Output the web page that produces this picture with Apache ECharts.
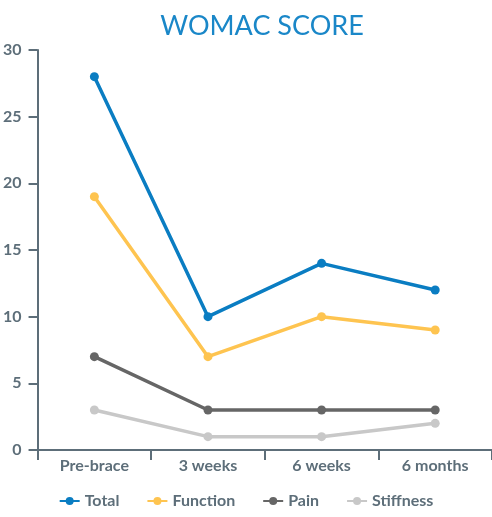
<!DOCTYPE html>
<html><head><meta charset="utf-8">
<script src="https://cdn.jsdelivr.net/npm/echarts@6/dist/echarts.min.js"></script>
<style>html,body{margin:0;padding:0;background:#fff}#c{width:492px;height:517px}</style>
</head><body><div id="c"></div>
<script>
const categories = ['Pre-brace', '3 weeks', '6 weeks', '6 months'];
const total = [28, 10, 14, 12];
const func = [19, 7, 10, 9];
const pain = [7, 3, 3, 3];
const stiffness = [3, 1, 1, 2];
const seriesNames = ['Total', 'Function', 'Pain', 'Stiffness'];
const colors = ['#0a7dc2', '#fec450', '#666666', '#c8c8c8'];
const axisColor = '#5d6e79';
const font = 'Lato, "Open Sans", sans-serif';

const chart = echarts.init(document.getElementById('c'));
const mk = (name, data, color) => ({
  name, type: 'line', data, color,
  symbol: 'circle', symbolSize: 9,
  lineStyle: { width: 3.5, color },
  itemStyle: { color },
  animation: false
});
chart.setOption({
  animation: false,
  title: {
    text: 'WOMAC SCORE', left: 257, top: 8, textAlign: 'center',
    textStyle: { color: '#1a87c8', fontSize: 27, fontWeight: 'normal', fontFamily: font }
  },
  legend: {
    bottom: 3, left: 'center', itemWidth: 20, itemHeight: 10, itemGap: 27,
    textStyle: { color: axisColor, fontSize: 16, fontFamily: font, fontWeight: 'bold' },
    data: seriesNames
  },
  grid: { left: 34, top: 50, width: 462, height: 400 },
  xAxis: {
    type: 'category', data: categories, boundaryGap: true,
    axisLine: { lineStyle: { color: axisColor, width: 2 } },
    axisTick: { show: true, length: 10, lineStyle: { color: axisColor, width: 2 } },
    axisLabel: { color: axisColor, fontSize: 16, fontWeight: 'bold', fontFamily: font, margin: 8 }
  },
  yAxis: {
    type: 'value', min: 0, max: 30, interval: 5,
    splitLine: { show: false },
    axisLine: { show: true, lineStyle: { color: axisColor, width: 2 } },
    axisTick: { show: true, length: 9, lineStyle: { color: axisColor, width: 2 } },
    axisLabel: { color: axisColor, fontSize: 16, fontWeight: 'bold', fontFamily: font, margin: 16 }
  },
  series: [
    mk(seriesNames[0], total, colors[0]),
    mk(seriesNames[1], func, colors[1]),
    mk(seriesNames[2], pain, colors[2]),
    mk(seriesNames[3], stiffness, colors[3])
  ]
});
</script></body></html>
